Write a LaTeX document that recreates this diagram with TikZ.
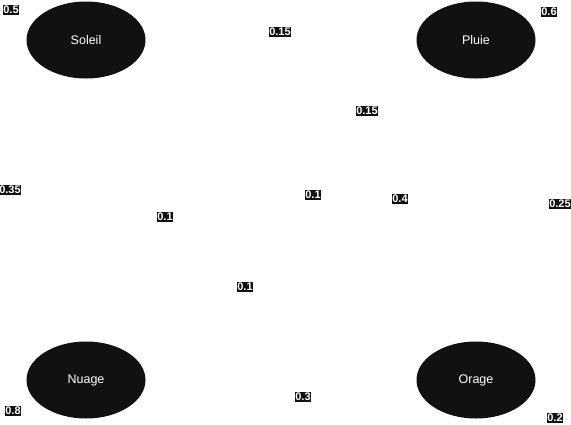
\documentclass[tikz,border=0pt]{standalone}
\usepackage{fontspec}
\setmainfont{Liberation Sans}
\usetikzlibrary{shapes.geometric}
\definecolor{nearblack}{HTML}{111111}

\tikzset{
    etat/.style={ellipse, fill=nearblack, text=white, minimum width=119pt, minimum height=77pt, inner sep=0pt, font=\fontsize{12.5}{14}\selectfont},
    proba/.style={fill=nearblack, text=white, inner xsep=0.5pt, inner ysep=1.5pt, font=\fontsize{11}{12}\selectfont\bfseries}
}

\begin{document}
\begin{tikzpicture}[x=1pt, y=-1pt]
        % cadre
        \useasboundingbox (0,0) rectangle (571,424);

        % etats
        \node[etat] (soleil) at (86,40) {Soleil};
        \node[etat] (pluie) at (476,40) {Pluie};
        \node[etat] (nuage) at (86,380) {Nuage};
        \node[etat] (orage) at (476,380) {Orage};

        % probabilites
        \node[proba] (p_ss) at (11,10) {0.5};
        \node[proba] (p_sp) at (280,32) {0.15};
        \node[proba] (p_pp) at (549,12) {0.6};
        \node[proba] (p_ps) at (367,111) {0.15};
        \node[proba] (p_sn) at (10,190) {0.35};
        \node[proba] (p_so) at (313,195) {0.1};
        \node[proba] (p_ns) at (165,217) {0.1};
        \node[proba] (p_pn) at (400,199) {0.4};
        \node[proba] (p_po) at (560,204) {0.25};
        \node[proba] (p_np) at (245,287) {0.1};
        \node[proba] (p_nn) at (13,411) {0.8};
        \node[proba] (p_no) at (303,397) {0.3};
        \node[proba] (p_oo) at (555,418) {0.2};
    \end{tikzpicture}
\end{document}
